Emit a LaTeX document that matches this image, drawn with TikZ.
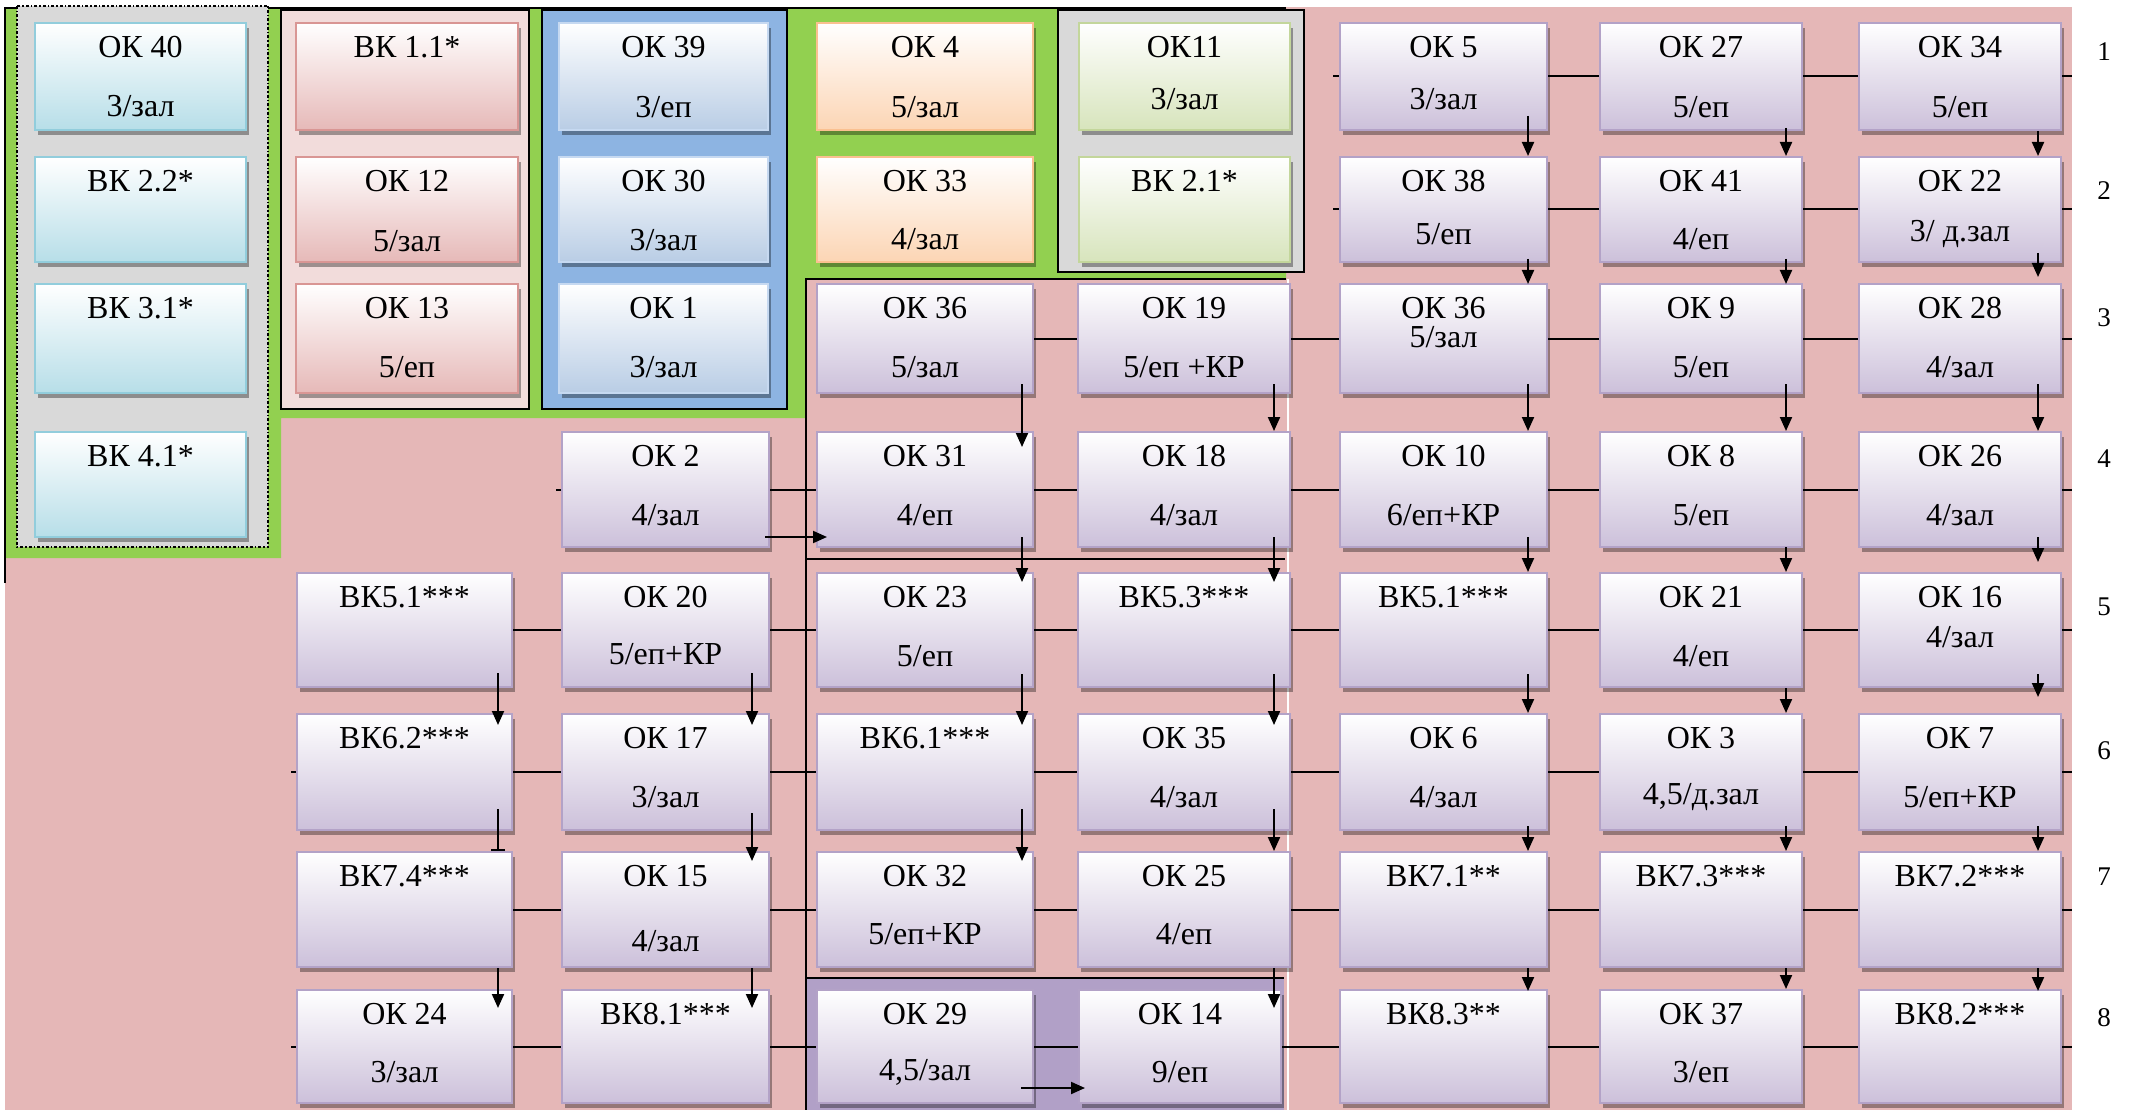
\documentclass[tikz,border=0pt]{standalone}
\usepackage{fontspec}
\setmainfont{Liberation Serif}
\usetikzlibrary{shadows,calc,arrows.meta}
\definecolor{bgpink}{HTML}{E5B7B7}
\definecolor{grn}{HTML}{92D050}
\definecolor{gry}{HTML}{D9D9D9}
\definecolor{redpan}{HTML}{F2DCDB}
\definecolor{bluepan}{HTML}{8DB4E2}
\definecolor{purreg}{HTML}{B1A0C7}
\definecolor{cyanB}{HTML}{B7DEE8}\definecolor{cyanD}{HTML}{92CDDC}
\definecolor{redB}{HTML}{E6B9B8}\definecolor{redD}{HTML}{D99694}
\definecolor{bluB}{HTML}{B9CDE5}\definecolor{bluD}{HTML}{C6D9F1}
\definecolor{orgB}{HTML}{FCD5B4}\definecolor{orgD}{HTML}{FAC090}
\definecolor{grnB}{HTML}{D7E4BC}\definecolor{grnD}{HTML}{C3D69B}
\definecolor{purB}{HTML}{CCC0DA}\definecolor{purD}{HTML}{B3A2C7}
\tikzset{
 boxbase/.style={rectangle, line width=2pt, inner sep=0pt, top color=white,
   drop shadow={shadow xshift=3pt,shadow yshift=-5pt,opacity=0.35,fill=black}},
 cyanbox/.style={boxbase, draw=cyanD, bottom color=cyanB},
 redbox/.style={boxbase, draw=redD, bottom color=redB},
 bluebox/.style={boxbase, draw=bluD, bottom color=bluB},
 orgbox/.style={boxbase, draw=orgD, bottom color=orgB},
 grnbox/.style={boxbase, draw=grnD, bottom color=grnB},
 purbox/.style={boxbase, draw=purD, bottom color=purB},
 txt/.style={font=\fontsize{32}{36}\selectfont, inner sep=0pt},
 numtxt/.style={font=\fontsize{27}{30}\selectfont, inner sep=0pt},
 ln/.style={line width=2pt},
 arr/.style={line width=2pt, -{Triangle[width=12pt,length=14pt]}},
 barr/.style={line width=2pt, -{Bar[width=14pt]}},
}
\newcommand\bx[9]{%
 \node[#2, minimum width={#5-#3}, minimum height={#6-#4}] (#1) at ({(#3+#5)/2},{(#4+#6)/2}) {};
 \node[txt] at ($(#1.north)+(0,25)$) {#7};
 \node[txt] at ($(#1.north)+(0,#9)$) {#8};}
\newcommand\bxone[7]{%
 \node[#2, minimum width={#5-#3}, minimum height={#6-#4}] (#1) at ({(#3+#5)/2},{(#4+#6)/2}) {};
 \node[txt] at ($(#1.north)+(0,25)$) {#7};}
\newcommand\vconn[5]{\draw[arr] ($(#1.south east)+(#3,-#4)$) -- ($(#1.south east |- #2.north)+(#3,#5)$);}
\begin{document}
\begin{tikzpicture}[x=1pt,y=-1pt]
\useasboundingbox (0,0) rectangle (2129,1110);
% backgrounds
\fill[bgpink] (5,7) rectangle (2072,1110);
\fill[grn] (5,8) -- (1286,8) -- (1286,279) -- (806,279) -- (806,418) -- (281,418) -- (281,558) -- (5,558) -- cycle;
\draw[line width=2pt] (5,583) -- (5,8) -- (1286,8);
\filldraw[fill=gry, draw=black, line width=1.5pt, dash dot] (17,6) rectangle (268,547);
\filldraw[fill=redpan, line width=2pt] (281,10) rectangle (529,409);
\filldraw[fill=bluepan, line width=2pt] (542,10) rectangle (787,409);
\filldraw[fill=gry, line width=2pt] (1058,10) rectangle (1304,272);
\fill[purreg] (806,978) rectangle (1284,1110);
\draw[line width=2pt] (806,1110) -- (806,279) -- (1286,279);
\draw[line width=2pt] (806,559) -- (1285,559);
\draw[line width=2pt] (806,978) -- (1284,978);
\draw[white, line width=1.5pt] (1288,279) -- (1288,1110);
% left group
\bx{ok40}{cyanbox}{35}{23}{246}{130}{ОК 40}{3/зал}{84}
\bxone{bk22}{cyanbox}{35}{157}{246}{262}{ВК 2.2*}
\bxone{bk31}{cyanbox}{35}{284}{246}{393}{ВК 3.1*}
\bxone{bk41}{cyanbox}{35}{432}{246}{537}{ВК 4.1*}
\bxone{bk11}{redbox}{296}{23}{518}{130}{ВК 1.1*}
\bx{ok12}{redbox}{296}{157}{518}{262}{ОК 12}{5/зал}{85}
\bx{ok13}{redbox}{296}{284}{518}{393}{ОК 13}{5/еп}{84}
\bx{ok39}{bluebox}{559}{23}{768}{130}{ОК 39}{3/еп}{85}
\bx{ok30}{bluebox}{559}{157}{768}{262}{ОК 30}{3/зал}{84}
\bx{ok1}{bluebox}{559}{284}{768}{393}{ОК 1}{3/зал}{84}
\bx{ok4}{orgbox}{817}{23}{1033}{130}{ОК 4}{5/зал}{85}
\bx{ok33}{orgbox}{817}{157}{1033}{262}{ОК 33}{4/зал}{83}
\bx{ok11}{grnbox}{1079}{23}{1290}{130}{ОК11}{3/зал}{77}
\bxone{bk21}{grnbox}{1079}{157}{1290}{262}{ВК 2.1*}
% row 1
\bx{ok5}{purbox}{1340}{23}{1547}{130}{ОК 5}{3/зал}{77}
\bx{ok27}{purbox}{1600}{23}{1802}{130}{ОК 27}{5/еп}{85}
\bx{ok34}{purbox}{1859}{23}{2061}{130}{ОК 34}{5/еп}{85}
% row 2
\bx{ok38}{purbox}{1340}{157}{1547}{262}{ОК 38}{5/еп}{78}
\bx{ok41}{purbox}{1600}{157}{1802}{262}{ОК 41}{4/еп}{83}
\bx{ok22}{purbox}{1859}{157}{2061}{262}{ОК 22}{3/ д.зал}{78}
% row 3
\bx{ok36a}{purbox}{817}{284}{1033}{393}{ОК 36}{5/зал}{84}
\bx{ok19}{purbox}{1078}{284}{1290}{393}{ОК 19}{5/еп +КР}{84}
\bx{ok36b}{purbox}{1340}{284}{1547}{393}{ОК 36}{5/зал}{54}
\bx{ok9}{purbox}{1600}{284}{1802}{393}{ОК 9}{5/еп}{84}
\bx{ok28}{purbox}{1859}{284}{2061}{393}{ОК 28}{4/зал}{84}
% row 4
\bx{ok2}{purbox}{562}{432}{769}{547}{ОК 2}{4/зал}{84}
\bx{ok31}{purbox}{817}{432}{1033}{547}{ОК 31}{4/еп}{84}
\bx{ok18}{purbox}{1078}{432}{1290}{547}{ОК 18}{4/зал}{84}
\bx{ok10}{purbox}{1340}{432}{1547}{547}{ОК 10}{6/еп+КР}{84}
\bx{ok8}{purbox}{1600}{432}{1802}{547}{ОК 8}{5/еп}{84}
\bx{ok26}{purbox}{1859}{432}{2061}{547}{ОК 26}{4/зал}{84}
% row 5
\bxone{bk51a}{purbox}{297}{573}{512}{687}{ВК5.1***}
\bx{ok20}{purbox}{562}{573}{769}{687}{ОК 20}{5/еп+КР}{82}
\bx{ok23}{purbox}{817}{573}{1033}{687}{ОК 23}{5/еп}{84}
\bxone{bk53}{purbox}{1078}{573}{1290}{687}{ВК5.3***}
\bxone{bk51b}{purbox}{1340}{573}{1547}{687}{ВК5.1***}
\bx{ok21}{purbox}{1600}{573}{1802}{687}{ОК 21}{4/еп}{84}
\bx{ok16}{purbox}{1859}{573}{2061}{687}{ОК 16}{4/зал}{65}
% row 6
\bxone{bk62}{purbox}{297}{714}{512}{830}{ВК6.2***}
\bx{ok17}{purbox}{562}{714}{769}{830}{ОК 17}{3/зал}{84}
\bxone{bk61}{purbox}{817}{714}{1033}{830}{ВК6.1***}
\bx{ok35}{purbox}{1078}{714}{1290}{830}{ОК 35}{4/зал}{84}
\bx{ok6}{purbox}{1340}{714}{1547}{830}{ОК 6}{4/зал}{84}
\bx{ok3}{purbox}{1600}{714}{1802}{830}{ОК 3}{4,5/д.зал}{84}
\bx{ok7}{purbox}{1859}{714}{2061}{830}{ОК 7}{5/еп+КР}{84}
% row 7
\bxone{bk74}{purbox}{297}{852}{512}{967}{ВК7.4***}
\bx{ok15}{purbox}{562}{852}{769}{967}{ОК 15}{4/зал}{90}
\bx{ok32}{purbox}{817}{852}{1033}{967}{ОК 32}{5/еп+КР}{83}
\bx{ok25}{purbox}{1078}{852}{1290}{967}{ОК 25}{4/еп}{83}
\bxone{bk71}{purbox}{1340}{852}{1547}{967}{ВК7.1**}
\bxone{bk73}{purbox}{1600}{852}{1802}{967}{ВК7.3***}
\bxone{bk72}{purbox}{1859}{852}{2061}{967}{ВК7.2***}
% row 8
\bx{ok24}{purbox}{297}{990}{512}{1103}{ОК 24}{3/зал}{83}
\bxone{bk81}{purbox}{562}{990}{769}{1103}{ВК8.1***}
\bx{ok29}{purbox}{817}{990}{1033}{1103}{ОК 29}{4,5/зал}{83}
\bx{ok14}{purbox}{1079}{990}{1281}{1103}{ОК 14}{9/еп}{83}
\bxone{bk83}{purbox}{1340}{990}{1547}{1103}{ВК8.3**}
\bx{ok37}{purbox}{1600}{990}{1802}{1103}{ОК 37}{3/еп}{83}
\bxone{bk82}{purbox}{1859}{990}{2061}{1103}{ВК8.2***}
% stub coordinates
\coordinate (l1) at (1333,76.5);
\coordinate (l2) at (1333,209.5);
\coordinate (l4) at (556,489.5);
\coordinate (l6) at (291,772);
\coordinate (l8) at (291,1046.5);
\foreach \r/\yy in {1/76.5,2/209.5,3/338.5,4/489.5,5/630,6/772,7/909.5,8/1046.5}
  \coordinate (e\r) at (2072,\yy);
% horizontal connectors
\draw[ln] (l1) -- (ok5.west); \draw[ln] (l2) -- (ok38.west);
\draw[ln] (l4) -- (ok2.west); \draw[ln] (l6) -- (bk62.west);
\draw[ln] (l8) -- (ok24.west);
\foreach \a/\b in {ok5/ok27,ok27/ok34,ok38/ok41,ok41/ok22,
  ok36a/ok19,ok19/ok36b,ok36b/ok9,ok9/ok28,
  ok2/ok31,ok31/ok18,ok18/ok10,ok10/ok8,ok8/ok26,
  bk51a/ok20,ok20/ok23,ok23/bk53,bk53/bk51b,bk51b/ok21,ok21/ok16,
  bk62/ok17,ok17/bk61,bk61/ok35,ok35/ok6,ok6/ok3,ok3/ok7,
  bk74/ok15,ok15/ok32,ok32/ok25,ok25/bk71,bk71/bk73,bk73/bk72,
  ok24/bk81,bk81/ok29,ok29/ok14,ok14/bk83,bk83/ok37,ok37/bk82}
  \draw[ln] (\a.east) -- (\b.west);
\foreach \a/\r in {ok34/1,ok22/2,ok28/3,ok26/4,ok16/5,ok7/6,bk72/7,bk82/8}
  \draw[ln] (\a.east) -- (e\r);
% vertical arrows
\vconn{bk51a}{bk62}{-15}{15}{12}
\draw[barr] ($(bk62.south east)+(-15,-22)$) -- ($(bk62.south east |- bk74.north)+(-15,0)$);
\vconn{bk74}{ok24}{-15}{0}{19}
\vconn{ok20}{ok17}{-18}{15}{12}
\vconn{ok17}{ok15}{-18}{18}{10}
\vconn{ok15}{bk81}{-18}{0}{19}
\vconn{ok36a}{ok31}{-12}{10}{16}
\vconn{ok31}{ok23}{-12}{11}{10}
\vconn{ok23}{bk61}{-12}{14}{12}
\vconn{bk61}{ok32}{-12}{22}{10}
\vconn{ok19}{ok18}{-17}{10}{0}
\vconn{ok18}{bk53}{-17}{11}{10}
\vconn{bk53}{ok35}{-17}{14}{12}
\vconn{ok35}{ok25}{-17}{22}{0}
\vconn{ok25}{ok14}{-17}{0}{19}
\vconn{ok5}{ok38}{-20}{15}{0}
\vconn{ok38}{ok36b}{-20}{4}{1}
\vconn{ok36b}{ok10}{-20}{10}{0}
\vconn{ok10}{bk51b}{-20}{11}{0}
\vconn{bk51b}{ok6}{-20}{14}{0}
\vconn{ok6}{bk71}{-20}{5}{0}
\vconn{bk71}{bk83}{-20}{0}{2}
\vconn{ok27}{ok41}{-17}{3}{0}
\vconn{ok41}{ok9}{-17}{4}{1}
\vconn{ok9}{ok8}{-17}{10}{0}
\vconn{ok8}{ok21}{-17}{1}{0}
\vconn{ok21}{ok3}{-17}{0}{0}
\vconn{ok3}{bk73}{-17}{5}{0}
\vconn{bk73}{ok37}{-17}{0}{0}
\vconn{ok34}{ok22}{-24}{0}{0}
\vconn{ok22}{ok28}{-24}{10}{-6}
\vconn{ok28}{ok26}{-24}{10}{0}
\vconn{ok26}{ok16}{-24}{11}{-10}
\vconn{ok16}{ok7}{-24}{14}{-16}
\vconn{ok7}{bk72}{-24}{5}{0}
\vconn{bk72}{bk82}{-24}{0}{2}
% horizontal arrows
\draw[arr] ($(ok2.south east)+(-5,-11)$) -- ($(ok31.south west)+(11,-11)$);
\draw[arr] ($(ok29.south east)+(-13,-16)$) -- ($(ok14.south west)+(7,-16)$);
% row numbers
\node[numtxt] (n1) at (2104,52) {1};
\node[numtxt] (n2) at (2104,191) {2};
\node[numtxt] (n3) at (2104,318) {3};
\node[numtxt] (n4) at (2104,459) {4};
\node[numtxt] (n5) at (2104,607) {5};
\node[numtxt] (n6) at (2104,751) {6};
\node[numtxt] (n7) at (2104,877) {7};
\node[numtxt] (n8) at (2104,1018) {8};
\end{tikzpicture}
\end{document}
